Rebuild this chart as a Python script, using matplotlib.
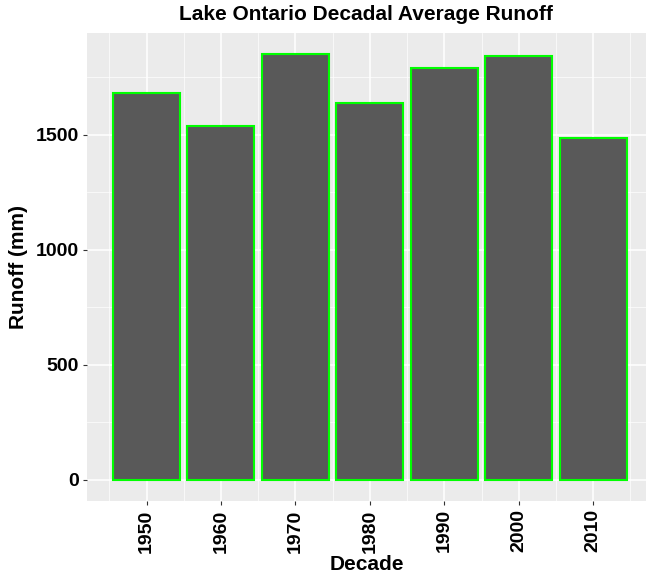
import numpy as np
import matplotlib
matplotlib.use("Agg")
import matplotlib.pyplot as plt
from matplotlib.ticker import MultipleLocator

# Data
decades = [1950, 1960, 1970, 1980, 1990, 2000, 2010]
runoff = [1680, 1540, 1852, 1636, 1790, 1841, 1485]

plt.rcParams["font.family"] = ["Liberation Sans", "DejaVu Sans"]
plt.rcParams["font.weight"] = "bold"

fig = plt.figure(figsize=(6.46, 5.79), dpi=100)
ax = fig.add_axes([87 / 646, 1 - 501 / 579, 1 - 87 / 646, (501 - 33) / 579])

ax.set_facecolor("#EBEBEB")
ax.bar(decades, runoff, width=9, color="#595959", edgecolor="#00FF00",
       linewidth=1.5, zorder=3)

ax.set_xlim(1942, 2017.1)
ax.set_ylim(-92.5, 1942.5)
ax.set_xticks(decades)
ax.set_xticklabels([str(d) for d in decades], rotation=90)
ax.set_yticks([0, 500, 1000, 1500])
ax.xaxis.set_minor_locator(MultipleLocator(5))
ax.yaxis.set_minor_locator(MultipleLocator(250))
ax.grid(which="major", color="white", linewidth=1.1, zorder=0)
ax.grid(which="minor", color="white", linewidth=0.5, zorder=0)
ax.set_axisbelow(True)
for s in ax.spines.values():
    s.set_visible(False)
ax.tick_params(which="major", length=3, color="#333333", labelsize=14,
               labelcolor="black", pad=3)
ax.tick_params(which="minor", length=0)

ax.set_xlabel("Decade", fontsize=15, fontweight="bold", labelpad=2)
ax.set_ylabel("Runoff (mm)", fontsize=15, fontweight="bold", labelpad=5)
fig.text(366 / 646, 1 - 15 / 579, "Lake Ontario Decadal Average Runoff",
         ha="center", va="center", fontsize=15, fontweight="bold")

fig.savefig("out.png", dpi=100)
